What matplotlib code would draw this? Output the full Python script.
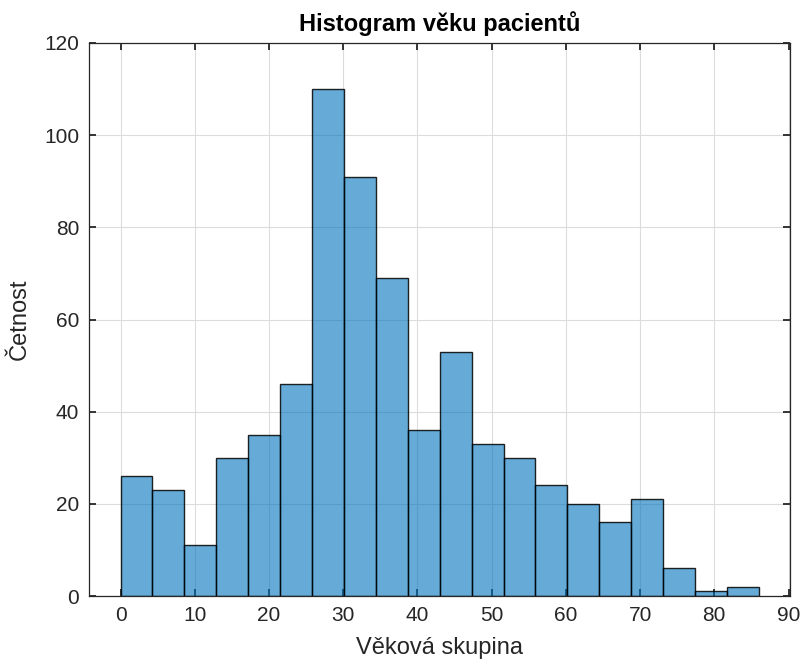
import matplotlib
matplotlib.use("Agg")
import matplotlib.pyplot as plt
from matplotlib import font_manager
import numpy as np

bin_edges = [round(4.3 * i, 2) for i in range(21)]
counts = [26, 23, 11, 30, 35, 46, 110, 91, 69, 36, 53, 33, 30, 24, 20, 16, 21, 6, 1, 2]
xticks = [0, 10, 20, 30, 40, 50, 60, 70, 80, 90]
yticks = [0, 20, 40, 60, 80, 100, 120]

plt.rcParams['font.family'] = ['Liberation Sans', 'DejaVu Sans']

bold_path = None
for f in font_manager.findSystemFonts():
    if f.endswith('LiberationSans-Bold.ttf'):
        bold_path = f
        break
if bold_path:
    title_font = font_manager.FontProperties(fname=bold_path, size=17)
else:
    title_font = font_manager.FontProperties(family='DejaVu Sans', weight='bold', size=15)

fig = plt.figure(figsize=(8.02, 6.6), dpi=100)
ax = fig.add_axes([89/802, 1 - 596/660, (790 - 89)/802, (596 - 43)/660])

centers = [(bin_edges[i] + bin_edges[i + 1]) / 2 for i in range(len(counts))]
ax.hist(centers, bins=bin_edges, weights=counts,
        facecolor=(0, 0.447, 0.741, 0.6), edgecolor=(0, 0, 0, 0.85), linewidth=1.0, zorder=3)

ax.set_xlim(-4.25, 90.2)
ax.set_ylim(0, 120)
ax.set_xticks(xticks)
ax.set_yticks(yticks)
dark = (0.15, 0.15, 0.15)
ax.tick_params(direction='in', length=5, width=1.3, color=dark,
               top=True, right=True, labelsize=15, labelcolor=dark, pad=7)
ax.grid(True, color='#dcdcdc', linewidth=0.8, zorder=0)
ax.tick_params(grid_color='#dcdcdc', grid_alpha=1.0, grid_linewidth=0.8)
for s in ax.spines.values():
    s.set_color(dark)
    s.set_linewidth(0.9)
    s.set_zorder(5)
ax.set_xlabel('Věková skupina', fontsize=17, color=dark, labelpad=8.5)
ax.set_ylabel('Četnost', fontsize=17, color=dark, labelpad=10)
ax.set_title('Histogram věku pacientů', fontproperties=title_font, pad=9)

fig.savefig('out.png', dpi=100)
